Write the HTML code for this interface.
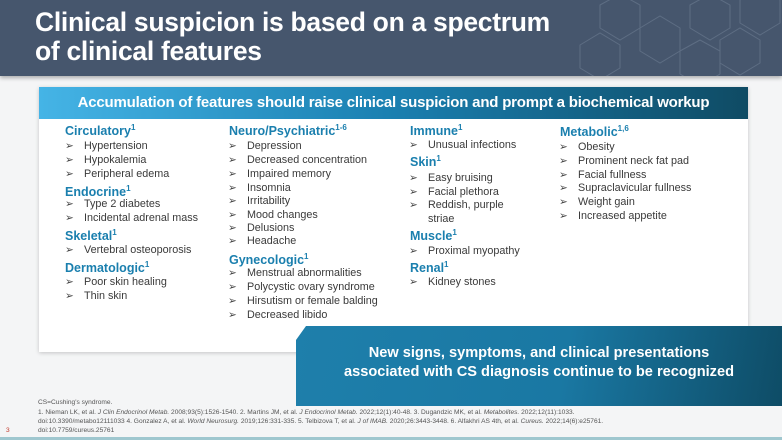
<!DOCTYPE html>
<html><head><meta charset="utf-8"><style>
body{margin:0;width:782px;height:440px;overflow:hidden;background:#f4f5f6;font-family:"Liberation Sans",Arial,sans-serif;position:relative}
.hdr{position:absolute;left:0;top:0;width:782px;height:76px;background:#46566d;box-shadow:0 2px 4px rgba(0,0,0,.3)}
.ttl{position:absolute;left:35px;top:8px;color:#fff;font-weight:bold;font-size:26.5px;line-height:29px;letter-spacing:-0.3px}
.card{position:absolute;left:39px;top:87px;width:709px;height:265px;background:#fff;box-shadow:0 1px 4px rgba(0,0,0,.2)}
.bar{position:absolute;left:39px;top:87px;width:709px;height:32px;background:linear-gradient(90deg,#45b4e6,#1a7fb0 50%,#0f4b64);color:#fff;font-weight:bold;font-size:15px;line-height:32px;text-align:center;letter-spacing:-0.2px;white-space:nowrap}
.h{position:absolute;color:#1a7fae;font-weight:bold;font-size:12.5px;line-height:16px;white-space:nowrap}
.h sup{font-size:8px;vertical-align:5px;line-height:0}
.i{position:absolute;color:#3a3a3a;font-size:10.8px;line-height:14px;white-space:nowrap}
.i:before{content:"➢";position:absolute;left:-19px;font-size:10.5px;color:#444}
.i.n:before{content:none}
.call{position:absolute;left:296px;top:326px;width:486px;height:80px;background:linear-gradient(100deg,#1e7fab,#1a78a3 55%,#0e4c66);clip-path:polygon(10px 0,100% 0,100% 100%,0 100%,0 14px);color:#fff;font-weight:bold;font-size:14.6px;line-height:19px;text-align:center;padding-top:18px;box-sizing:border-box;white-space:nowrap}
.ref{position:absolute;left:38px;color:#555;font-size:6.6px;line-height:10px;white-space:nowrap}
.strip{position:absolute;left:0;top:437px;width:782px;height:3px;background:#9fc7cf}
</style></head><body>
<div class="hdr">
<svg width="782" height="76" style="position:absolute;left:0;top:0" stroke="#6d7d92" fill="none" stroke-width="1" opacity=".6">
<polygon points="600,5 620,-6 640,5 640,28 620,40 600,28"/><polygon points="640,28 660,16 680,28 680,51 660,63 640,51"/><polygon points="690,5 710,-6 730,5 730,28 710,40 690,28"/><polygon points="720,40 740,28 760,40 760,63 740,75 720,63"/><polygon points="740,0 760,-12 780,0 780,23 760,35 740,23"/><polygon points="580,45 600,33 620,45 620,68 600,80 580,68"/><polygon points="680,51 700,40 720,51 720,74 700,86 680,74"/>
</svg>
<div class="ttl">Clinical suspicion is based on a spectrum<br>of clinical features</div></div>
<div class="card"></div>
<div class="bar">Accumulation of features should raise clinical suspicion and prompt a biochemical workup</div>

<div class="h" style="left:65px;top:123px">Circulatory<sup>1</sup></div>
<div class="i" style="left:84px;top:139px">Hypertension</div>
<div class="i" style="left:84px;top:153px">Hypokalemia</div>
<div class="i" style="left:84px;top:167px">Peripheral edema</div>
<div class="h" style="left:65px;top:184px">Endocrine<sup>1</sup></div>
<div class="i" style="left:84px;top:197px">Type 2 diabetes</div>
<div class="i" style="left:84px;top:211px">Incidental adrenal mass</div>
<div class="h" style="left:65px;top:228px">Skeletal<sup>1</sup></div>
<div class="i" style="left:84px;top:243px">Vertebral osteoporosis</div>
<div class="h" style="left:65px;top:260px">Dermatologic<sup>1</sup></div>
<div class="i" style="left:84px;top:275px">Poor skin healing</div>
<div class="i" style="left:84px;top:289px">Thin skin</div>

<div class="h" style="left:229px;top:123px">Neuro/Psychiatric<sup>1-6</sup></div>
<div class="i" style="left:247px;top:139px">Depression</div>
<div class="i" style="left:247px;top:153px">Decreased concentration</div>
<div class="i" style="left:247px;top:167px">Impaired memory</div>
<div class="i" style="left:247px;top:181px">Insomnia</div>
<div class="i" style="left:247px;top:194px">Irritability</div>
<div class="i" style="left:247px;top:208px">Mood changes</div>
<div class="i" style="left:247px;top:221px">Delusions</div>
<div class="i" style="left:247px;top:234px">Headache</div>
<div class="h" style="left:229px;top:252px">Gynecologic<sup>1</sup></div>
<div class="i" style="left:247px;top:266px">Menstrual abnormalities</div>
<div class="i" style="left:247px;top:280px">Polycystic ovary syndrome</div>
<div class="i" style="left:247px;top:294px">Hirsutism or female balding</div>
<div class="i" style="left:247px;top:308px">Decreased libido</div>

<div class="h" style="left:410px;top:123px">Immune<sup>1</sup></div>
<div class="i" style="left:428px;top:138px">Unusual infections</div>
<div class="h" style="left:410px;top:154px">Skin<sup>1</sup></div>
<div class="i" style="left:428px;top:171px">Easy bruising</div>
<div class="i" style="left:428px;top:185px">Facial plethora</div>
<div class="i" style="left:428px;top:198px">Reddish, purple</div>
<div class="i n" style="left:428px;top:212px;">striae</div>
<div class="h" style="left:410px;top:228px">Muscle<sup>1</sup></div>
<div class="i" style="left:428px;top:244px">Proximal myopathy</div>
<div class="h" style="left:410px;top:260px">Renal<sup>1</sup></div>
<div class="i" style="left:428px;top:275px">Kidney stones</div>

<div class="h" style="left:560px;top:124px">Metabolic<sup>1,6</sup></div>
<div class="i" style="left:578px;top:140px">Obesity</div>
<div class="i" style="left:578px;top:154px">Prominent neck fat pad</div>
<div class="i" style="left:578px;top:168px">Facial fullness</div>
<div class="i" style="left:578px;top:181px">Supraclavicular fullness</div>
<div class="i" style="left:578px;top:195px">Weight gain</div>
<div class="i" style="left:578px;top:209px">Increased appetite</div>

<div class="call">New signs, symptoms, and clinical presentations<br>associated with CS diagnosis continue to be recognized</div>

<div class="ref" style="top:398px">CS=Cushing's syndrome.</div>
<div class="ref" style="top:408px">1. Nieman LK, et al. <i>J Clin Endocrinol Metab.</i> 2008;93(5):1526-1540. 2. Martins JM, et al. <i>J Endocrinol Metab.</i> 2022;12(1):40-48. 3. Dugandzic MK, et al. <i>Metabolites.</i> 2022;12(11):1033.</div>
<div class="ref" style="top:417px">doi:10.3390/metabo12111033 4. Gonzalez A, et al. <i>World Neurosurg.</i> 2019;126:331-335. 5. Telbizova T, et al. <i>J of IMAB.</i> 2020;26:3443-3448. 6. Alfakhri AS 4th, et al. <i>Cureus.</i> 2022;14(6):e25761.</div>
<div class="ref" style="top:426px">doi:10.7759/cureus.25761</div>
<div class="ref" style="top:426px;left:6px;color:#c0392b">3</div>
<div class="strip"></div>
</body></html>
